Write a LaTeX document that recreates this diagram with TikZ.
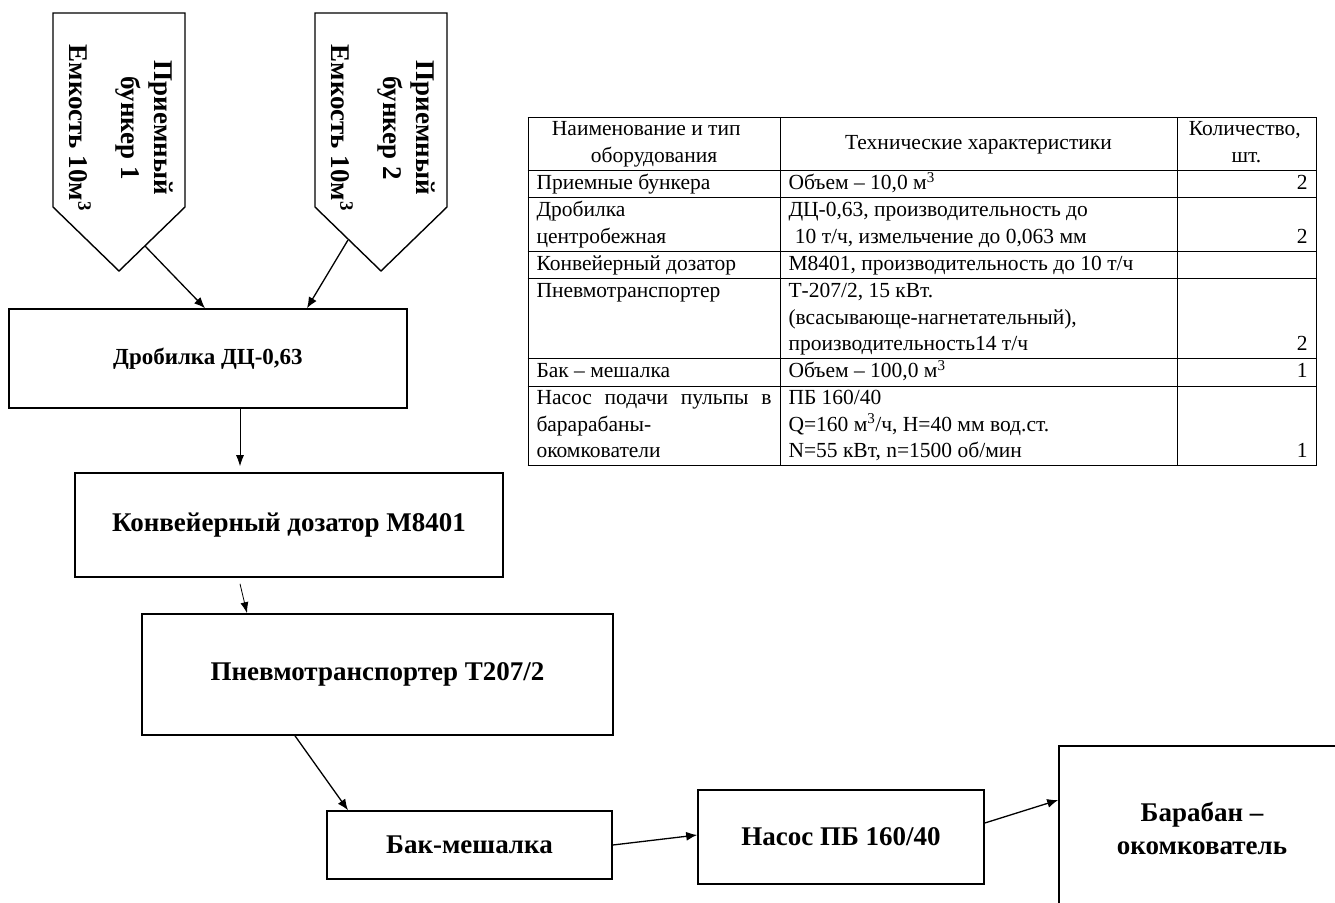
\documentclass[tikz,border=0pt]{standalone}
\usepackage{fontspec}
\setmainfont{Liberation Serif}
\usepackage{array}
\usepackage{xcolor}
\usepackage{tikz}
\usetikzlibrary{arrows.meta}

\tikzset{
	blok/.style={draw, line width=1.6pt, inner sep=0pt, align=center, font=\bfseries\fontsize{27}{33}\selectfont},
	bunker/.style={draw, line width=1.4pt},
	strelka/.style={line width=1.3pt, -{Latex[length=11pt,width=9pt]}},
	tonkaya/.style={line width=0.8pt, -{Latex[length=11pt,width=8pt]}}
}

\begin{document}
\begin{tikzpicture}[x=1pt, y=-1pt]
			\clip (0,0) rectangle (1335,902);
			\foreach \n/\x in {1/53, 2/315}
			{
				\draw[bunker] (\x,13) -- ++(132,0) -- ++(0,194) -- ++(-66,64) -- ++(-66,-64) -- cycle;
				\node[rotate=-90, align=center, font=\bfseries\fontsize{27}{33}\selectfont](bunk\n) at (\x+68,128) {Приемный\\бункер \n\\[19pt]Емкость 10м\textsuperscript{3}};
			}
			\coordinate(out1) at (145,246);
			\coordinate(out2) at (348,240);
			\node[blok, minimum width=398pt, minimum height=99pt, font=\bfseries\fontsize{23}{28}\selectfont](drob) at (208,358.5) {Дробилка ДЦ-0,63};
			\node[blok, minimum width=428pt, minimum height=104pt](konv) at (289,525) {Конвейерный дозатор М8401};
			\node[blok, minimum width=471pt, minimum height=121pt](pnev) at (377.5,674.5) {Пневмотранспортер Т207/2};
			\node[blok, minimum width=285pt, minimum height=68pt](bak) at (469.5,845) {Бак-мешалка};
			\node[blok, minimum width=286pt, minimum height=94pt](nasos) at (841,837) {Насос ПБ 160/40};
			\node[blok, minimum width=286pt, minimum height=164pt](baraban) at (1202,828) {Барабан –\\окомкователь};
			\node[inner sep=0pt](table) at (922,291.5)
			{%
				\fontsize{21.5}{26.3}\selectfont%
				\setlength{\tabcolsep}{8pt}%
				\setlength{\arrayrulewidth}{1pt}%
				\begin{tabular}{|p{235pt}|p{380pt}|>{\raggedleft\arraybackslash}p{122pt}|}
					\hline
					\multicolumn{1}{|>{\centering\arraybackslash}m{235pt}|}{Наименование и тип\newline оборудования} & \multicolumn{1}{>{\centering\arraybackslash}m{380pt}|}{Технические характеристики} & \multicolumn{1}{>{\centering\arraybackslash}m{122pt}|}{Количество,\newline шт.} \\
					\hline
					Приемные бункера & Объем – 10,0 м\textsuperscript{3} & 2 \\
					\hline
					Дробилка\newline центробежная & ДЦ-0,63, производительность до\newline\hspace*{0.3em}10 т/ч, измельчение до 0,063 мм & ~\newline 2 \\
					\hline
					Конвейерный дозатор & М8401, производительность до 10 т/ч & \\
					\hline
					Пневмотранспортер & Т-207/2, 15 кВт.\newline (всасывающе-нагнетательный),\newline производительность14 т/ч & ~\newline~\newline 2 \\
					\hline
					Бак – мешалка & Объем – 100,0 м\textsuperscript{3} & 1 \\
					\hline
					Насос подачи пульпы в\linebreak барарабаны-\newline окомкователи & ПБ 160/40\newline Q=160 м\textsuperscript{3}/ч, H=40 мм вод.ст.\newline N=55 кВт, n=1500 об/мин & ~\newline~\newline 1 \\
					\hline
				\end{tabular}%
			};
			\draw[strelka] (out1) -- ([xshift=-3pt]drob.north);
			\draw[strelka] (out2) -- ([xshift=99pt]drob.north);
			\draw[tonkaya] ([xshift=32pt]drob.south) -- ([xshift=-49pt,yshift=6pt]konv.north);
			\draw[tonkaya] ([xshift=-49pt,yshift=-6pt]konv.south) -- ([xshift=-130.5pt]pnev.north);
			\draw[strelka] ([xshift=-82.5pt]pnev.south) -- ([xshift=-121.5pt]bak.north);
			\draw[strelka] (bak.east) -- ([yshift=2pt]nasos.west);
			\draw[strelka] ([yshift=14pt]nasos.east) -- ([yshift=28pt]baraban.west);
		\end{tikzpicture}
\end{document}
